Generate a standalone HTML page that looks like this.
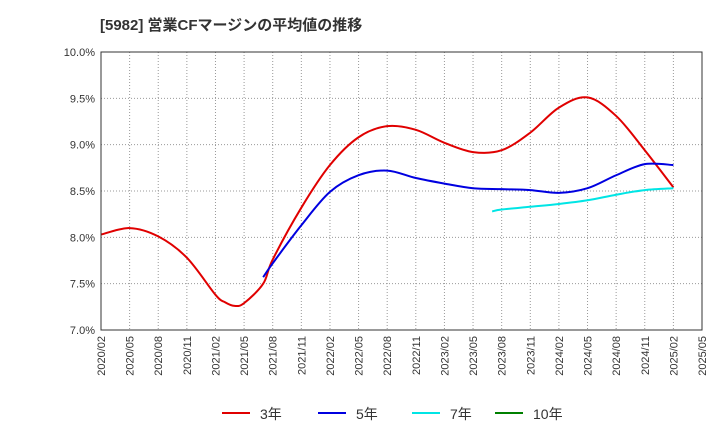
<!DOCTYPE html>
<html><head><meta charset="utf-8">
<style>
body{margin:0;background:#fff;font-family:"Liberation Sans","Noto Sans CJK JP",sans-serif;}
svg text{font-family:"Liberation Sans","Noto Sans CJK JP",sans-serif;}
</style></head>
<body>
<svg id="c" width="720" height="440" xmlns="http://www.w3.org/2000/svg">
<text x="100" y="30" font-size="15" font-weight="bold" fill="#333">[5982]  営業CFマージンの平均値の推移</text>
<g id="grid"></g><g id="series"></g><g id="axes"></g><g id="legend"></g>
</svg>
<script>
const xLabels=["2020/02","2020/05","2020/08","2020/11","2021/02","2021/05","2021/08","2021/11","2022/02","2022/05","2022/08","2022/11","2023/02","2023/05","2023/08","2023/11","2024/02","2024/05","2024/08","2024/11","2025/02","2025/05"];
const yTicks=[7.0,7.5,8.0,8.5,9.0,9.5,10.0];
// month offsets from 2020/02
const m3=[0,3,6,9,12,13,14,15,17,18,21,24,27,30,33,36,39,42,45,48,51,54,57,60];
const v3=[8.03,8.10,8.01,7.78,7.38,7.30,7.26,7.29,7.50,7.76,8.32,8.78,9.08,9.20,9.16,9.02,8.92,8.94,9.13,9.40,9.51,9.31,8.94,8.54];
const m5=[17,18,21,24,27,30,33,36,39,42,45,48,51,54,57,60];
const v5=[7.57,7.72,8.13,8.49,8.67,8.72,8.64,8.58,8.53,8.52,8.51,8.48,8.53,8.67,8.79,8.78];
const m7=[41,42,45,48,51,54,57,60];
const v7=[8.28,8.30,8.33,8.36,8.40,8.46,8.51,8.53];
const NS="http://www.w3.org/2000/svg";
const L=101,R=702,T=52,B=330;
const x=m=>L+(R-L)*m/63;
const y=v=>B-(B-T)*(v-7)/3;
function mk(tag,attrs,parent){const e=document.createElementNS(NS,tag);for(const k in attrs)e.setAttribute(k,attrs[k]);parent.appendChild(e);return e;}
const grid=document.getElementById('grid'),axes=document.getElementById('axes'),ser=document.getElementById('series'),leg=document.getElementById('legend');
yTicks.forEach(t=>{
 const l=mk('line',{x1:L,x2:R,y1:y(t),y2:y(t),stroke:'#999','stroke-dasharray':'1,2'},grid);
 
 
 const tx=mk('text',{x:L-6,y:y(t)+4,'font-size':11,'text-anchor':'end',fill:'#333'},axes);
 tx.textContent=t.toFixed(1)+'%';
 
 
});
xLabels.forEach((s,i)=>{
 const xx=x(i*3);
 const l=mk('line',{x1:xx,x2:xx,y1:T,y2:B,stroke:'#999','stroke-dasharray':'1,2'},grid);
 
 
 const tx=mk('text',{x:xx+4,y:B+6,'font-size':11,'text-anchor':'end',fill:'#333',transform:`rotate(-90 ${xx+4} ${B+6})`},axes);
 tx.textContent=s;
 
 
});
const fr=mk('rect',{x:L,y:T,width:R-L,height:B-T,fill:'none',stroke:'#333'},axes);


function path(ms,vs){
 const p=ms.map((m,i)=>[x(m),y(vs[i])]);
 let d=`M${p[0][0]},${p[0][1]}`;
 for(let i=0;i<p.length-1;i++){
  const p0=p[i-1]||p[i],p1=p[i],p2=p[i+1],p3=p[i+2]||p2;
  const c1=[p1[0]+(p2[0]-p0[0])/6,p1[1]+(p2[1]-p0[1])/6];
  const c2=[p2[0]-(p3[0]-p1[0])/6,p2[1]-(p3[1]-p1[1])/6];
  d+=` C${c1[0]},${c1[1]} ${c2[0]},${c2[1]} ${p2[0]},${p2[1]}`;
 }
 return d;
}
[[m3,v3,'#e00000','line-3yr'],[m5,v5,'#0000e0','line-5yr'],[m7,v7,'#00e5e5','line-7yr']].forEach(s=>{
 const e=mk('path',{d:path(s[0],s[1]),fill:'none',stroke:s[2],'stroke-width':2},ser);
 
 
});
[['3年','#e00000',222,'legend-3yr'],['5年','#0000e0',318,'legend-5yr'],['7年','#00e5e5',412,'legend-7yr'],['10年','#008000',495,'legend-10yr']].forEach(s=>{
 const g=mk('g',{},leg);
 
 
 mk('line',{x1:s[2],x2:s[2]+28,y1:413,y2:413,stroke:s[1],'stroke-width':2},g);
 const t=mk('text',{x:s[2]+38,y:419,'font-size':14,fill:'#333'},g);
 t.textContent=s[0];
});
</script>
</body></html>
